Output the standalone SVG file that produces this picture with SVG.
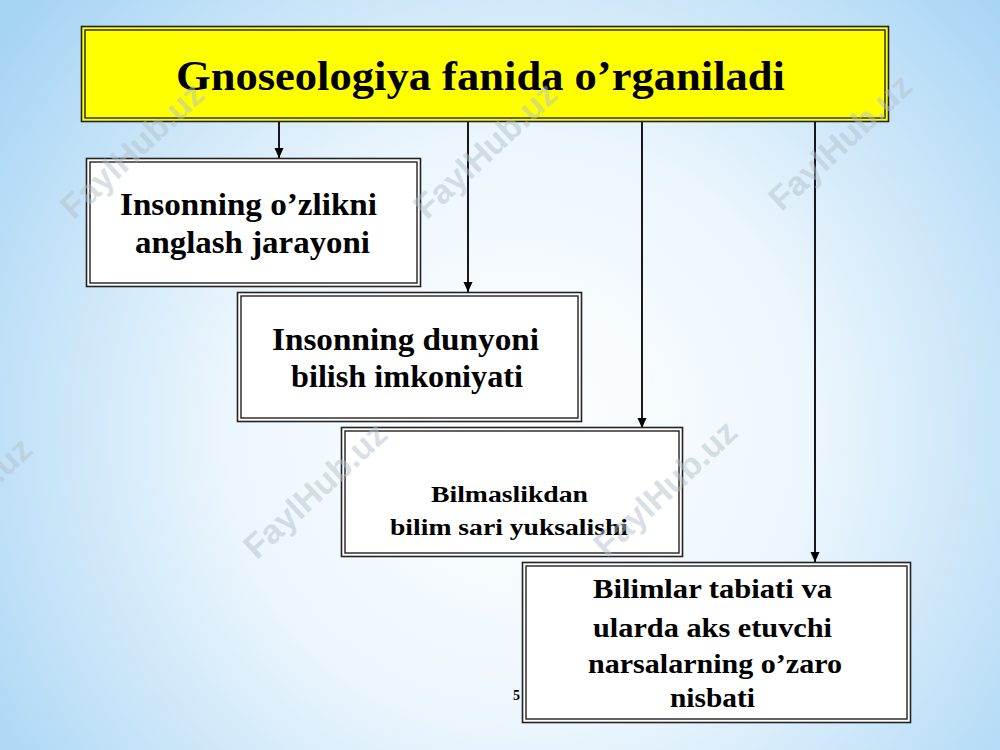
<svg xmlns="http://www.w3.org/2000/svg" width="1000" height="750" viewBox="0 0 1000 750">
<defs>
<radialGradient id="bg" cx="520" cy="430" r="650" gradientUnits="userSpaceOnUse">
<stop offset="0" stop-color="#ffffff"/>
<stop offset="0.45" stop-color="#ecf6fd"/>
<stop offset="1" stop-color="#a6d4f4"/>
</radialGradient>
<marker id="arr" markerWidth="10" markerHeight="10" refX="10" refY="5" orient="auto" markerUnits="userSpaceOnUse" viewBox="0 0 10 10">
<path d="M0,0.5 L10,5 L0,9.5 Z" fill="#000"/>
</marker>
<style>
.outer{fill:#fff;stroke:#222;stroke-width:1.6}
.inner{fill:none;stroke:#222;stroke-width:1.4}
.t{font-family:"Liberation Serif","Times New Roman",serif;font-weight:bold;fill:#000;text-anchor:start}
.wm{font-family:"Liberation Sans",Arial,sans-serif;font-weight:bold;font-size:34px;fill:#b4c2cc;fill-opacity:0.5;text-anchor:middle}
.conn{stroke:#000;stroke-width:1.8;fill:none}
</style>
</defs>
<rect width="1000" height="750" fill="url(#bg)"/>
<g id="connectors">
<line class="conn" x1="279" y1="122" x2="279" y2="158" marker-end="url(#arr)"/>
<line class="conn" x1="468" y1="122" x2="468" y2="292" marker-end="url(#arr)"/>
<line class="conn" x1="642" y1="122" x2="642" y2="428" marker-end="url(#arr)"/>
<line class="conn" x1="815" y1="122" x2="815" y2="562" marker-end="url(#arr)"/>
</g>
<g id="title">
<rect x="81.5" y="26.5" width="807" height="95" fill="#ffff00" stroke="#222" stroke-width="1.6"/>
<rect x="85" y="30" width="800" height="88" class="inner"/>
<text class="t" x="176" y="90" font-size="42" textLength="609" lengthAdjust="spacingAndGlyphs">Gnoseologiya fanida o’rganiladi</text>
</g>
<g id="node1">
<rect x="86.5" y="158.5" width="334" height="128" class="outer"/>
<rect x="90" y="162" width="327" height="121" class="inner"/>
<text class="t" x="120" y="215" font-size="31" textLength="257" lengthAdjust="spacingAndGlyphs">Insonning o’zlikni</text>
<text class="t" x="135" y="253" font-size="31" textLength="235" lengthAdjust="spacingAndGlyphs">anglash jarayoni</text>
</g>
<g id="node2">
<rect x="237.5" y="292.5" width="344" height="129" class="outer"/>
<rect x="241" y="296" width="337" height="122" class="inner"/>
<text class="t" x="272" y="350" font-size="31" textLength="267" lengthAdjust="spacingAndGlyphs">Insonning dunyoni</text>
<text class="t" x="291" y="387" font-size="31" textLength="232" lengthAdjust="spacingAndGlyphs">bilish imkoniyati</text>
</g>
<g id="node3">
<rect x="341.5" y="427.5" width="341" height="129" class="outer"/>
<rect x="345" y="431" width="334" height="122" class="inner"/>
<text class="t" x="431" y="502" font-size="24" textLength="157" lengthAdjust="spacingAndGlyphs">Bilmaslikdan</text>
<text class="t" x="390" y="535" font-size="24" textLength="238" lengthAdjust="spacingAndGlyphs">bilim sari yuksalishi</text>
</g>
<g id="node4">
<rect x="522.5" y="562.5" width="388" height="160" class="outer"/>
<rect x="526" y="566" width="381" height="153" class="inner"/>
<text class="t" x="593" y="598" font-size="28" textLength="239" lengthAdjust="spacingAndGlyphs">Bilimlar tabiati va</text>
<text class="t" x="593" y="637" font-size="28" textLength="239" lengthAdjust="spacingAndGlyphs">ularda aks etuvchi</text>
<text class="t" x="588" y="673" font-size="28" textLength="254" lengthAdjust="spacingAndGlyphs">narsalarning o’zaro</text>
<text class="t" x="670" y="707" font-size="28" textLength="85" lengthAdjust="spacingAndGlyphs">nisbati</text>
</g>
<text class="t" x="513" y="700" font-size="14" fill="#333">5</text>
<g id="watermarks">
<text class="wm" transform="translate(132,150) rotate(-43)" y="12">FaylHub.uz</text>
<text class="wm" transform="translate(485,150) rotate(-43)" y="12">FaylHub.uz</text>
<text class="wm" transform="translate(840,142) rotate(-43)" y="12">FaylHub.uz</text>
<text class="wm" transform="translate(-40,505) rotate(-43)" y="12">FaylHub.uz</text>
<text class="wm" transform="translate(315,490) rotate(-43)" y="12">FaylHub.uz</text>
<text class="wm" transform="translate(665,488) rotate(-43)" y="12">FaylHub.uz</text>
</g>
</svg>
